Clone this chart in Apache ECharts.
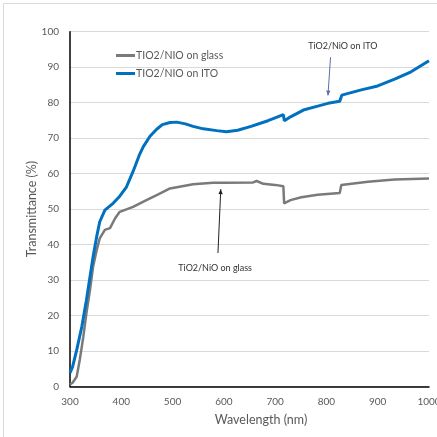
<!DOCTYPE html>
<html><head><meta charset="utf-8">
<script src="https://cdn.jsdelivr.net/npm/echarts@6/dist/echarts.min.js"></script>
<style>html,body{margin:0;padding:0;background:#fff}#c{width:437px;height:437px}</style>
</head><body><div id="c"></div>
<script>
const seriesNames = ['TIO2/NIO on glass', 'TIO2/NIO on ITO'];
const glass = [[300,0.5],[305,1],[313,2.7],[319,7.4],[326,14],[332,20.6],[339,27.2],[345,33.7],[352,38.4],[358,41.7],[368,44.1],[378,44.6],[388,47.4],[397,49.2],[423,50.6],[449,52.5],[472,54.1],[495,55.8],[540,57],[579,57.4],[600,57.4],[657,57.5],[664,57.9],[677,57.1],[700,56.8],[716,56.4],[717.5,51.6],[730,52.5],[751,53.3],[783,54],[826,54.5],[829,56.8],[881,57.7],[933,58.3],[1000,58.6]];
const ito = [[300,3.8],[305,5.5],[313,10.2],[323,16.8],[332,24.3],[339,30.9],[345,36.5],[352,42.2],[358,46.4],[368,49.7],[384,51.6],[397,53.6],[410,56.2],[423,60.6],[436,65.5],[443,67.6],[456,70.5],[469,72.5],[480,73.8],[495,74.4],[508,74.5],[525,74],[540,73.3],[560,72.6],[586,72.1],[605,71.8],[627,72.2],[653,73.3],[686,74.9],[700,75.7],[716,76.6],[718,74.9],[730,76],[755,77.9],[783,79],[803,79.8],[826,80.4],[830,82.1],[868,83.6],[900,84.7],[933,86.6],[965,88.7],[1000,91.8]];
const xTicks = [300,400,500,600,700,800,900,1000];
const yTicks = [0,10,20,30,40,50,60,70,80,90,100];
const annotations = [
  {text:'TiO2/NiO on ITO', label:[832,95.8], from:[808,92.8], to:[803,82.0], color:'#5b6fae'},
  {text:'TiO2/NiO on glass', label:[583,33.3], from:[588.5,37.6], to:[594,55.6], color:'#222'}
];
const font = 'Lato, "Open Sans", sans-serif';
const chart = echarts.init(document.getElementById('c'));
const opt = {
  backgroundColor:'#fff',
  animation:false,
  textStyle:{fontFamily:font},
  grid:{left:70, right:8, top:31.7, bottom:50.7, containLabel:false, outerBoundsMode:'none'},
  legend:{
    orient:'vertical', left:111, top:45, itemWidth:19, itemHeight:3, itemGap:7, icon:'rect',
    textStyle:{fontSize:10.5, color:'#595959', fontFamily:font, padding:[0,0,0,-4]},
    data:seriesNames
  },
  xAxis:{
    type:'value', min:300, max:1000, interval:100,
    axisLine:{lineStyle:{color:'#000', width:1.5}},
    axisTick:{show:false}, splitLine:{show:false},
    axisLabel:{color:'#595959', fontSize:10, margin:10, formatter:v=>xTicks.includes(v)?String(v):''}
  },
  yAxis:{
    type:'value', min:0, max:100, interval:10,
    axisLine:{show:true, lineStyle:{color:'#000', width:1.5}},
    axisTick:{show:false},
    splitLine:{lineStyle:{color:'#d9d9d9', width:1}},
    axisLabel:{color:'#595959', fontSize:10, margin:11, formatter:v=>yTicks.includes(v)?String(v):''}
  },
  series:[
    {name:seriesNames[0], type:'line', data:glass, showSymbol:false, lineStyle:{color:'#7a7a7a', width:2.5}, itemStyle:{color:'#7a7a7a'}, z:3},
    {name:seriesNames[1], type:'line', data:ito, showSymbol:false, lineStyle:{color:'#0070c0', width:3}, itemStyle:{color:'#0070c0'}, z:4}
  ]
};
chart.setOption(opt);
const g = [
  {type:'line', shape:{x1:3.5,y1:3.5,x2:3.5,y2:437}, style:{stroke:'#d9d9d9', lineWidth:1}},
  {type:'line', shape:{x1:3.5,y1:3.5,x2:437,y2:3.5}, style:{stroke:'#d9d9d9', lineWidth:1}},
  {type:'text', x:32, y:209, rotation:Math.PI/2, style:{text:'Transmittance (%)', fontSize:12.5, fill:'#595959', fontFamily:font, align:'center', verticalAlign:'middle'}},
  {type:'text', x:261, y:420, style:{text:'Wavelength (nm)', fontSize:12.5, fill:'#595959', fontFamily:font, align:'center', verticalAlign:'middle'}}
];
annotations.forEach(a=>{
  const L = chart.convertToPixel({gridIndex:0}, a.label);
  const F = chart.convertToPixel({gridIndex:0}, a.from);
  const T = chart.convertToPixel({gridIndex:0}, a.to);
  g.push({type:'text', x:L[0], y:L[1], style:{text:a.text, fontSize:9, fill:'#333', fontFamily:font, align:'center', verticalAlign:'middle'}});
  g.push({type:'line', shape:{x1:F[0],y1:F[1],x2:T[0],y2:T[1]}, style:{stroke:a.color, lineWidth:1}});
  const ang = Math.atan2(T[1]-F[1], T[0]-F[0]);
  const s=5, w=2.2;
  const bx = T[0]-s*Math.cos(ang), by = T[1]-s*Math.sin(ang);
  const px = -Math.sin(ang)*w, py = Math.cos(ang)*w;
  g.push({type:'polygon', shape:{points:[[T[0],T[1]],[bx+px,by+py],[bx-px,by-py]]}, style:{fill:a.color}});
});
chart.setOption({graphic:g});
</script>
</body></html>
